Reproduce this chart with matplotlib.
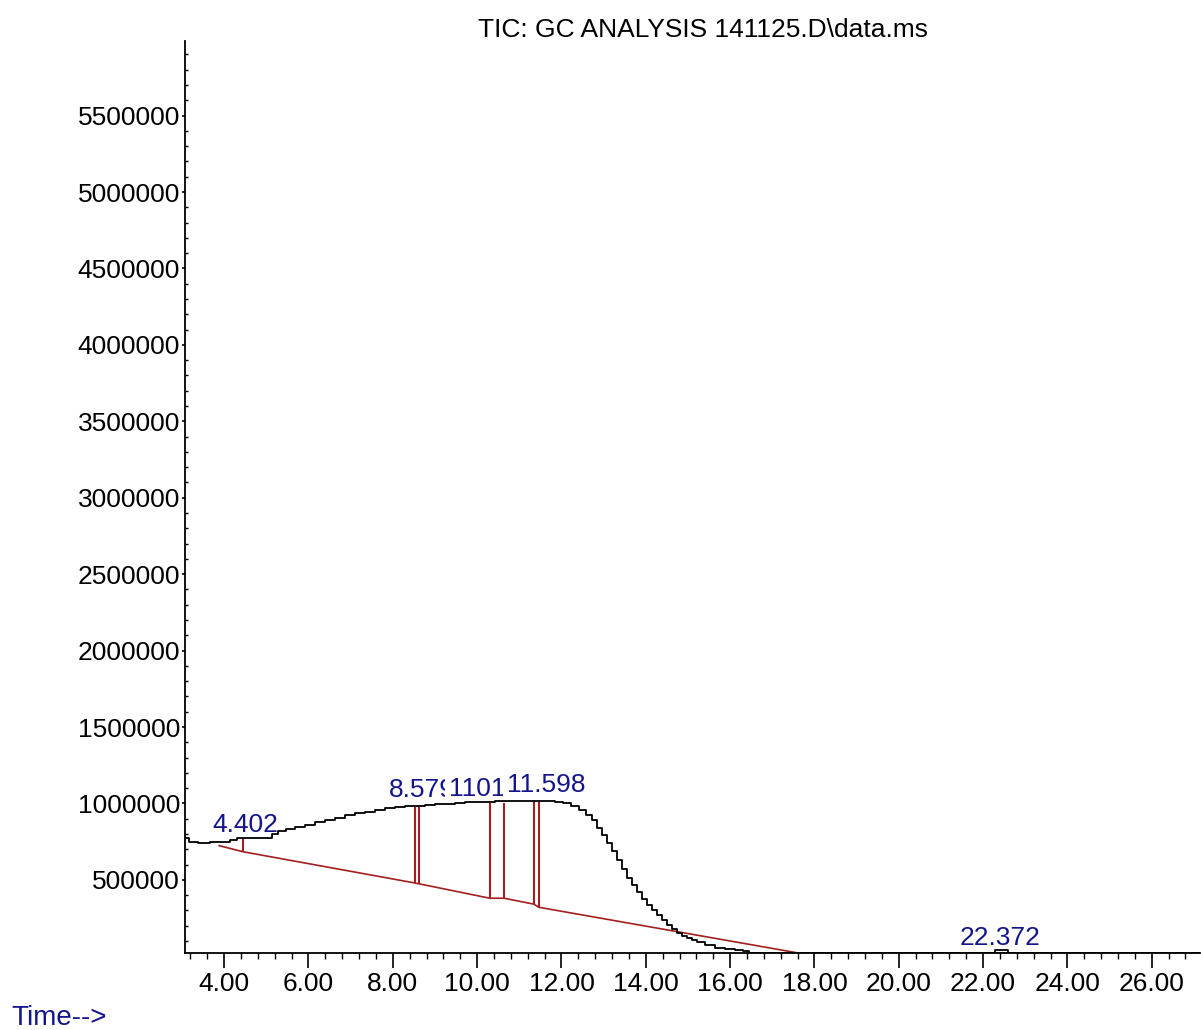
import matplotlib
matplotlib.use("Agg")
import matplotlib.pyplot as plt
from matplotlib.ticker import MultipleLocator, FormatStrFormatter

plt.rcParams['font.family'] = ['Liberation Sans', 'DejaVu Sans']

# TIC trace (min, abundance)
time = [3.10, 3.23, 3.54, 3.78, 4.02, 4.25, 4.37, 4.61, 4.85, 5.08, 5.20, 5.37,
        5.56, 5.80, 6.03, 6.27, 6.50, 6.74, 6.98, 7.22, 7.46, 7.69, 7.93, 8.17,
        8.41, 8.64, 8.88, 9.12, 9.35, 9.59, 9.83, 10.07, 10.30, 10.54, 10.78,
        11.02, 11.25, 11.49, 11.73, 11.96, 12.13, 12.32, 12.51, 12.67, 12.79,
        12.91, 13.03, 13.14, 13.26, 13.38, 13.50, 13.62, 13.74, 13.86, 13.98,
        14.09, 14.21, 14.33, 14.45, 14.57, 14.69, 14.81, 14.93, 15.04, 15.16,
        15.28, 15.52, 15.75, 15.99, 16.23, 16.39, 16.50, 18.00, 20.00, 22.00,
        22.26, 22.30, 22.58, 22.62, 24.00, 26.00, 27.14]
abundance = [776000, 750000, 743000, 750000, 750000, 762000, 775000, 775000,
             775000, 776000, 800000, 820000, 834000, 847000, 860000, 880000,
             893000, 906000, 925000, 939000, 945000, 958000, 971000, 978000,
             984000, 984000, 991000, 998000, 998000, 1004000, 1011000, 1011000,
             1011000, 1017000, 1017000, 1017000, 1017000, 1017000, 1017000,
             1011000, 1004000, 984000, 958000, 925000, 893000, 840000, 795000,
             742000, 690000, 631000, 572000, 513000, 467000, 422000, 375000,
             336000, 304000, 271000, 238000, 205000, 179000, 153000, 133000,
             120000, 107000, 94000, 74000, 55000, 48000, 41000, 35000, 24000,
             24000, 24000, 24000, 24000, 40000, 40000, 24000, 24000, 24000, 24000]

# integration baseline
base_time = [3.88, 4.45, 8.52, 8.63, 10.30, 10.64, 11.35, 11.46, 17.57]
base_abund = [724000, 684000, 480000, 474000, 380000, 380000, 341000, 321000, 24000]
base2_time = [21.93, 22.88]
base2_abund = [24000, 24000]

# drop lines
drop_time = [4.45, 8.52, 8.63, 10.30, 10.64, 11.35, 11.46]
drop_low = [684000, 480000, 474000, 380000, 380000, 341000, 321000]
drop_high = [773000, 980000, 980000, 1002000, 1002000, 1013000, 1013000]

# peak labels (as printed, later ones hide earlier ones)
peak_labels = ["4.402", "8.579", "1101", "11.598", "22.372"]
label_pos = [(3.71, 814000), (7.90, 1045000), (9.33, 1052000), (10.70, 1078000), (21.44, 74000)]

navy = '#14148c'
dred = '#a31f1f'

fig = plt.figure(figsize=(12.01, 10.30), dpi=100)
ax = fig.add_axes([0.154, 0.0748, 0.845, 0.8857])

ax.plot(time, abundance, color='black', lw=1.3, drawstyle='steps-mid', zorder=3)
ax.plot(base_time, base_abund, color=dred, lw=1.2, zorder=2.5)
ax.plot(base2_time, base2_abund, color=dred, lw=1.2, zorder=2.5)
ax.vlines(drop_time, drop_low, drop_high, colors=dred, lw=1.5, zorder=2.5)

for txt, (tx, ty) in zip(peak_labels, label_pos):
    ax.text(tx, ty, txt, color=navy, fontsize=19, ha='left', va='baseline', zorder=1.5,
            bbox=dict(boxstyle='square,pad=0.15', facecolor='white', edgecolor='none'))

ax.set_xlim(3.07, 27.14)
ax.set_ylim(22000, 5990000)

ax.xaxis.set_major_locator(MultipleLocator(2))
ax.xaxis.set_minor_locator(MultipleLocator(0.4))
ax.xaxis.set_major_formatter(FormatStrFormatter('%.2f'))
ax.yaxis.set_major_locator(MultipleLocator(500000))
ax.yaxis.set_minor_locator(MultipleLocator(100000))
ax.yaxis.set_major_formatter(FormatStrFormatter('%d'))

ax.tick_params(axis='x', which='major', direction='out', length=11, width=1.2, labelsize=19, pad=3)
ax.tick_params(axis='x', which='minor', direction='out', length=4, width=1.0)
ax.tick_params(axis='y', which='major', direction='out', length=2.5, width=1.2, labelsize=19, pad=1)
ax.tick_params(axis='y', which='minor', direction='in', length=2.5, width=1.0)

for s in ['top', 'right']:
    ax.spines[s].set_visible(False)
for s in ['left', 'bottom']:
    ax.spines[s].set_linewidth(1.3)

fig.text(0.5854, 0.964, "TIC: GC ANALYSIS 141125.D\\data.ms", fontsize=19, ha='center', va='baseline')
fig.text(0.0097, 0.005, "Time-->", fontsize=20, color=navy, ha='left', va='baseline')

fig.savefig('out.png', dpi=100)
